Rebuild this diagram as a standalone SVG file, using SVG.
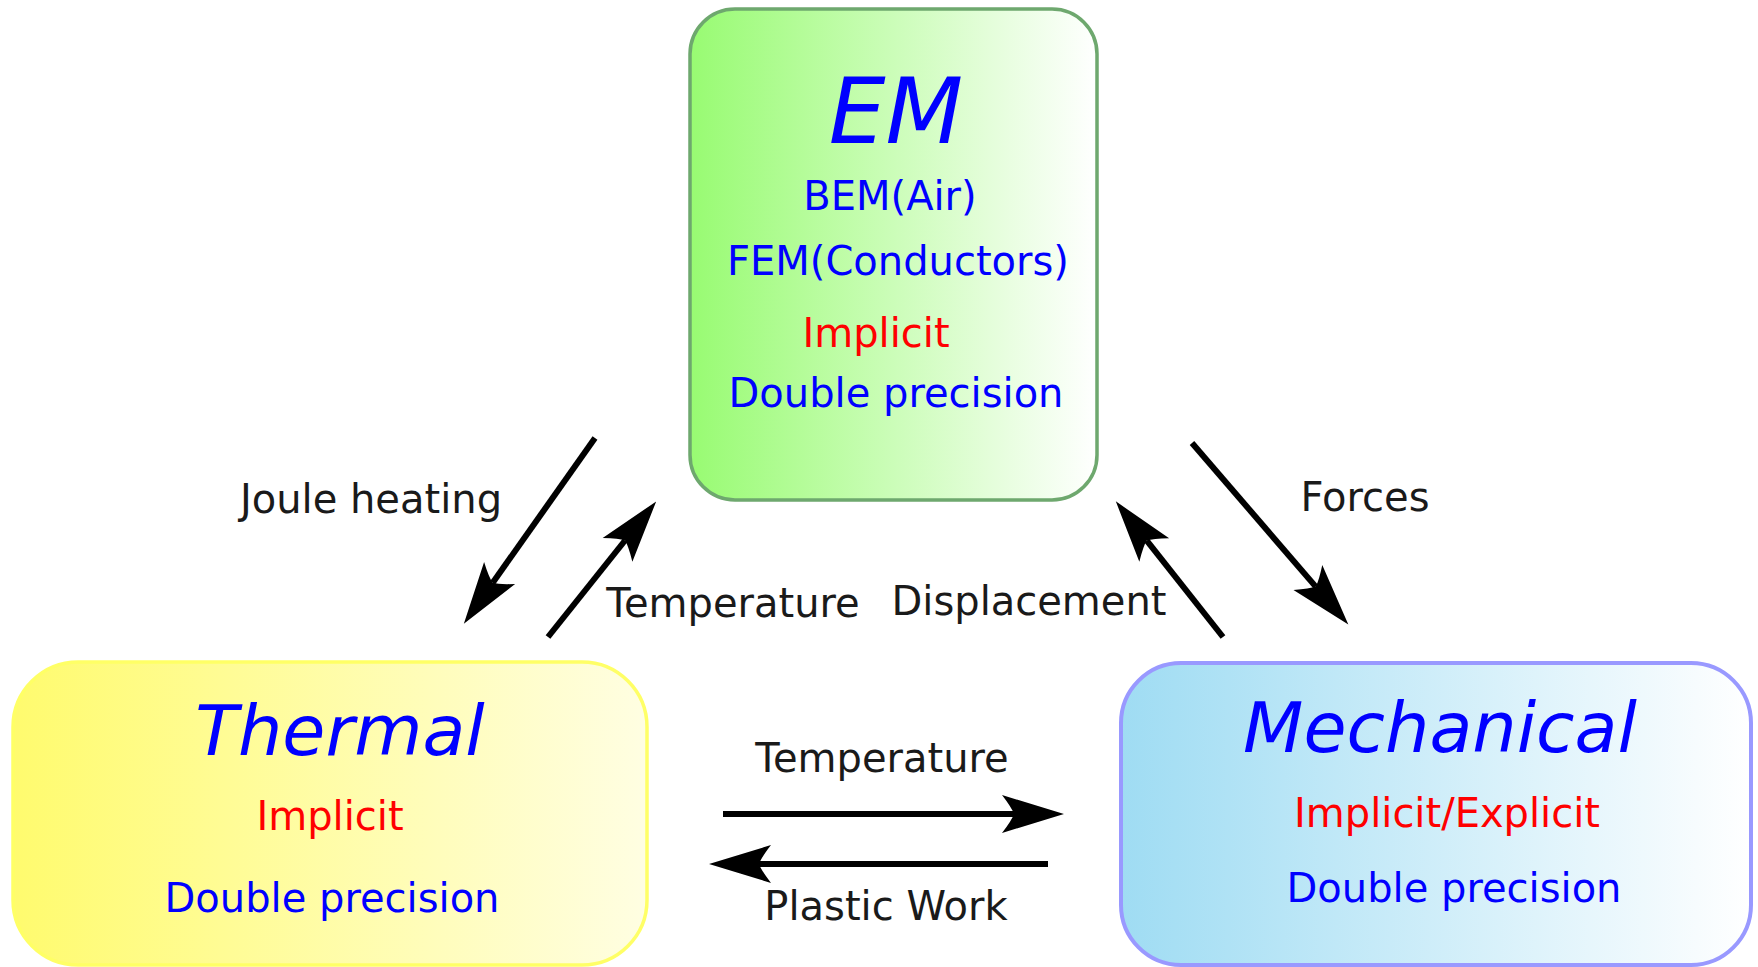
<svg xmlns="http://www.w3.org/2000/svg" width="1758" height="967" viewBox="0 0 1758 967">
  <defs>
    <linearGradient id="gEM" x1="0" y1="0" x2="1" y2="0">
      <stop offset="0" stop-color="#98fb72"/>
      <stop offset="1" stop-color="#ffffff"/>
    </linearGradient>
    <linearGradient id="gTh" x1="0" y1="0" x2="1" y2="0">
      <stop offset="0" stop-color="#fffb6e"/>
      <stop offset="1" stop-color="#fffee2"/>
    </linearGradient>
    <linearGradient id="gMe" x1="0" y1="0" x2="1" y2="0">
      <stop offset="0" stop-color="#9fdcf3"/>
      <stop offset="1" stop-color="#ffffff"/>
    </linearGradient>
    <marker id="ah" markerUnits="userSpaceOnUse" orient="auto" refX="0" refY="0" markerWidth="80" markerHeight="50" overflow="visible">
      <path d="M50,0 L-12,-19 Q-2,-6 0,0 Q-2,6 -12,19 Z" fill="#000"/>
    </marker>
  </defs>
  <style>
    text { font-family: "DejaVu Sans", "Liberation Sans", sans-serif; text-anchor: middle; }
    .title { font-style: italic; fill: #0000ff; }
    .blue { font-size: 40px; fill: #0000ff; }
    .red { font-size: 40px; fill: #ff0000; }
    .lbl { font-size: 40px; fill: #1a1a1a; }
    .conn { stroke: #000; stroke-width: 6; fill: none; marker-end: url(#ah); }
  </style>
  <rect width="1758" height="967" fill="#ffffff"/>

  <g id="node-em">
    <rect x="690" y="9" width="407" height="491" rx="45" ry="45" fill="url(#gEM)" stroke="#6ea86e" stroke-width="3.5"/>
    <text class="title" x="896" y="143" font-size="90">EM</text>
    <text class="blue" x="890" y="210">BEM(Air)</text>
    <text class="blue" x="898" y="275">FEM(Conductors)</text>
    <text class="red" x="876" y="347">Implicit</text>
    <text class="blue" x="896" y="407">Double precision</text>
  </g>

  <g id="node-thermal">
    <rect x="13" y="662" width="634" height="303" rx="65" ry="65" fill="url(#gTh)" stroke="#ffff66" stroke-width="3.5"/>
    <text class="title" x="340" y="755" font-size="70">Thermal</text>
    <text class="red" x="330" y="830">Implicit</text>
    <text class="blue" x="332" y="912">Double precision</text>
  </g>

  <g id="node-mechanical">
    <rect x="1121" y="663" width="630" height="302" rx="60" ry="60" fill="url(#gMe)" stroke="#9999ff" stroke-width="4"/>
    <text class="title" x="1440" y="752" font-size="70">Mechanical</text>
    <text class="red" x="1447" y="827">Implicit/Explicit</text>
    <text class="blue" x="1454" y="902">Double precision</text>
  </g>

  <g id="connectors">
    <path class="conn" d="M595,438 L492.7,582.8"/>
    <path class="conn" d="M548,637 L625,540.5"/>
    <path class="conn" d="M1223,637 L1146.8,540.6"/>
    <path class="conn" d="M1192,443 L1315.7,586.6"/>
    <path class="conn" d="M723,814 L1014,814"/>
    <path class="conn" d="M1048,864 L759,864"/>
    <text class="lbl" x="371" y="513">Joule heating</text>
    <text class="lbl" x="733" y="617">Temperature</text>
    <text class="lbl" x="1029" y="615">Displacement</text>
    <text class="lbl" x="1365" y="511">Forces</text>
    <text class="lbl" x="882" y="772">Temperature</text>
    <text class="lbl" x="886" y="920">Plastic Work</text>
  </g>
</svg>
